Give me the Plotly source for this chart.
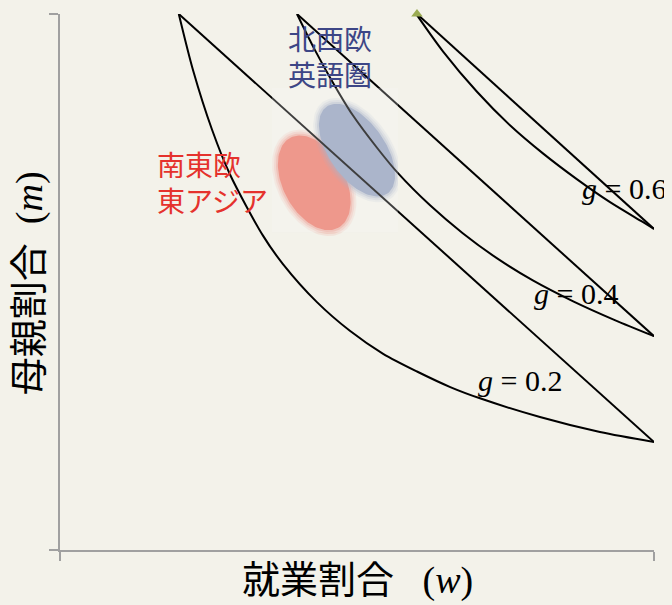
import numpy as np
import plotly.graph_objects as go

# lens boundaries: w = employment share, m = mother share
g_values = [0.2, 0.4, 0.6]
apex_w = [0.200, 0.399, 0.601]
end_m = [0.2015, 0.399, 0.599]

curve_w_02 = [0.200, 0.224, 0.256, 0.286, 0.342, 0.375, 0.433, 0.488, 0.544, 0.601, 0.657, 0.707, 0.808, 0.909, 1.000]
curve_m_02 = [1.000, 0.895, 0.784, 0.701, 0.586, 0.534, 0.462, 0.409, 0.366, 0.333, 0.304, 0.283, 0.248, 0.220, 0.2015]

curve_w_04 = [0.399, 0.429, 0.460, 0.493, 0.534, 0.569, 0.623, 0.678, 0.736, 0.796, 0.864, 0.934, 1.000]
curve_m_04 = [1.000, 0.933, 0.871, 0.811, 0.750, 0.703, 0.643, 0.591, 0.544, 0.503, 0.464, 0.429, 0.399]

curve_w_06 = [0.601, 0.645, 0.702, 0.758, 0.813, 0.870, 0.926, 0.981, 1.000]
curve_m_06 = [0.998, 0.930, 0.855, 0.792, 0.740, 0.692, 0.649, 0.612, 0.599]

curves_w = [curve_w_02, curve_w_04, curve_w_06]
curves_m = [curve_m_02, curve_m_04, curve_m_06]

# country-group clouds
cloud_names = ['南東欧<br>東アジア', '北西欧<br>英語圏']
cloud_center_w = [0.428, 0.500]
cloud_center_m = [0.685, 0.746]
cloud_semi_major = [51, 53]
cloud_semi_minor = [31, 28]
cloud_tilt = [62, 55]
cloud_colors = ['#eb7868', '#929fbc']
label_colors = ['#e5322d', '#3d4686']

# pasted picture holding the clouds
photo_w = [0.357, 0.569]
photo_m = [0.593, 0.862]

# the page body keeps an 8px margin, so the figure is shifted to compensate
PAGE = 8
PX_W, PX_H = 594, 536
W, H = 672, 605
L, T = 60 - PAGE, 14 - PAGE
R, B = W - L - PX_W, H - T - PX_H
BG = '#f3f2ea'
SERIF = 'Liberation Serif, Noto Sans CJK JP'
CJK = 'Noto Sans CJK JP'


def cloud(i, grow):
    t = np.linspace(0, 2 * np.pi, 120)
    th = np.radians(cloud_tilt[i])
    a, b = cloud_semi_major[i] + grow, cloud_semi_minor[i] + grow
    dx = a * np.cos(t) * np.cos(th) - b * np.sin(t) * np.sin(th)
    dy = a * np.cos(t) * np.sin(th) + b * np.sin(t) * np.cos(th)
    x = np.minimum(cloud_center_w[i] + dx / PX_W, photo_w[1])
    y = cloud_center_m[i] - dy / PX_H
    return x, y


fig = go.Figure()

for i in range(len(cloud_names)):
    for grow, op in [(6, 0.12), (4, 0.18), (2, 0.3), (0, 1.0)]:
        x, y = cloud(i, grow)
        fig.add_trace(go.Scatter(x=x, y=y, mode='lines', fill='toself',
                                 fillcolor=cloud_colors[i], line=dict(width=0),
                                 opacity=op, hoverinfo='skip', showlegend=False))

for i, g in enumerate(g_values):
    fig.add_trace(go.Scatter(x=curves_w[i], y=curves_m[i], mode='lines',
                             line=dict(color='black', width=2, shape='spline', smoothing=0.8),
                             name=f'g = {g}', showlegend=False))
    fig.add_trace(go.Scatter(x=[apex_w[i], 1.0], y=[1.0, end_m[i]], mode='lines',
                             line=dict(color='black', width=2),
                             showlegend=False))

fig.add_trace(go.Scatter(x=[apex_w[2]], y=[1.0], mode='markers',
                         marker=dict(symbol='triangle-up', size=10, color='#9aab52'),
                         cliponaxis=False, showlegend=False))

fig.add_shape(type='rect', x0=photo_w[0], x1=photo_w[1], y0=photo_m[0], y1=photo_m[1],
              xref='x', yref='y', fillcolor='rgba(248,249,246,0.25)',
              line=dict(width=0), layer='above')

# cloud labels
fig.add_annotation(x=0.160, y=0.687, text=cloud_names[0], showarrow=False,
                   xanchor='left', yanchor='middle', align='left',
                   font=dict(family=CJK, size=28, color=label_colors[0]))
fig.add_annotation(x=0.381, y=0.922, text=cloud_names[1], showarrow=False,
                   xanchor='left', yanchor='middle', align='left',
                   font=dict(family=CJK, size=28, color=label_colors[1]))

# g labels
g_label_pos = [(0.700, 0.317), (0.794, 0.479), (0.875, 0.675)]
for g, (lx, ly) in zip(g_values, g_label_pos):
    fig.add_annotation(x=lx, y=ly, text=f'<i>g</i> = {g}', showarrow=False,
                       xanchor='left', yanchor='middle',
                       font=dict(family=SERIF, size=30, color='black'))

# axis titles
fig.add_annotation(x=0.5, y=-0.056, xref='paper', yref='paper',
                   text='就業割合&nbsp;&nbsp;&nbsp;(<i>w</i>)', showarrow=False,
                   xanchor='center', yanchor='middle',
                   font=dict(family=SERIF, size=38, color='black'))
fig.add_annotation(x=-0.052, y=0.498, xref='paper', yref='paper',
                   text='母親割合&nbsp;&nbsp;(<i>m</i>)', showarrow=False, textangle=-90,
                   xanchor='center', yanchor='middle',
                   font=dict(family=SERIF, size=38, color='black'))

axis = dict(range=[0, 1], showgrid=False, zeroline=False, showline=True,
            linecolor='#a0a0a0', linewidth=1.5, ticks='outside', tickvals=[0, 1],
            ticklen=9, tickwidth=1.5, tickcolor='#a0a0a0', showticklabels=False)

fig.update_layout(
    width=W, height=H,
    margin=dict(l=L, r=R, t=T, b=B),
    paper_bgcolor=BG, plot_bgcolor=BG,
    xaxis=axis, yaxis=axis,
    font=dict(family=SERIF),
    showlegend=False,
)

fig.write_html('out.html', post_script=(
    "document.body.style.background='%s';"
    "document.documentElement.style.overflow='hidden';" % BG))
